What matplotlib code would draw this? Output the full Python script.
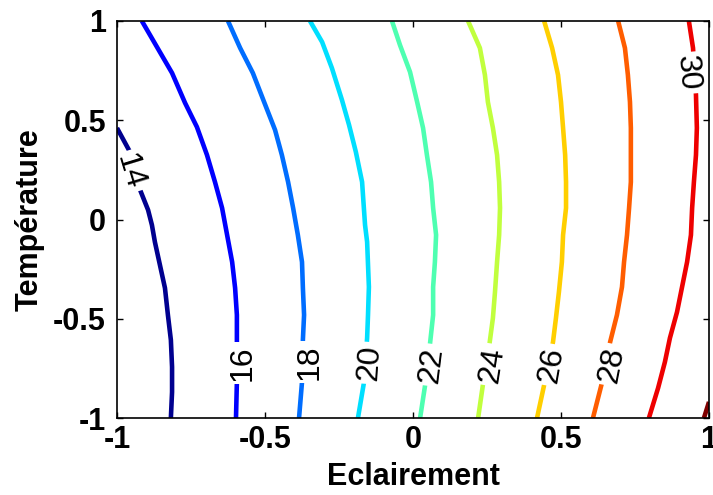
import matplotlib
matplotlib.use("Agg")
import matplotlib.pyplot as plt
from matplotlib.colors import Normalize, LinearSegmentedColormap

plt.rcParams['font.family'] = ['Liberation Sans', 'DejaVu Sans']
plt.rcParams['axes.unicode_minus'] = False

# CONTOUR LEVELS AND LINES (data units)
levels = [14, 16, 18, 20, 22, 24, 26, 28, 30, 32]

x14 = [-1.0, -0.956, -0.922, -0.895, -0.882, -0.872, -0.855, -0.838, -0.828, -0.818, -0.814, -0.814, -0.818]
y14 = [0.461, 0.340, 0.149, 0.048, -0.028, -0.113, -0.229, -0.345, -0.481, -0.607, -0.743, -0.869, -1.0]

x16 = [-0.916, -0.865, -0.814, -0.770, -0.730, -0.696, -0.669, -0.645, -0.628, -0.611, -0.601, -0.595, -0.595, -0.595, -0.598]
y16 = [1.0, 0.869, 0.738, 0.587, 0.466, 0.325, 0.189, 0.058, -0.078, -0.214, -0.345, -0.481, -0.617, -0.819, -1.0]

x18 = [-0.625, -0.584, -0.541, -0.503, -0.466, -0.443, -0.422, -0.405, -0.389, -0.375, -0.372, -0.368, -0.372, -0.375, -0.385]
y18 = [1.0, 0.864, 0.738, 0.592, 0.451, 0.325, 0.189, 0.058, -0.078, -0.214, -0.345, -0.481, -0.607, -0.819, -1.0]

x20 = [-0.348, -0.307, -0.274, -0.240, -0.216, -0.193, -0.172, -0.166, -0.162, -0.155, -0.149, -0.152, -0.155, -0.166, -0.186]
y20 = [1.0, 0.894, 0.763, 0.602, 0.476, 0.340, 0.189, 0.058, -0.028, -0.113, -0.340, -0.481, -0.597, -0.824, -1.0]

x22 = [-0.071, -0.044, -0.010, 0.014, 0.034, 0.047, 0.061, 0.068, 0.078, 0.074, 0.068, 0.068, 0.057, 0.041, 0.024]
y22 = [1.0, 0.879, 0.743, 0.592, 0.461, 0.325, 0.189, 0.058, -0.078, -0.214, -0.340, -0.481, -0.632, -0.834, -1.0]

x24 = [0.186, 0.226, 0.243, 0.253, 0.270, 0.284, 0.291, 0.294, 0.291, 0.284, 0.277, 0.270, 0.257, 0.236, 0.220]
y24 = [1.0, 0.864, 0.728, 0.592, 0.461, 0.325, 0.189, 0.058, -0.078, -0.214, -0.365, -0.496, -0.642, -0.834, -1.0]

x26 = [0.443, 0.470, 0.490, 0.500, 0.507, 0.514, 0.517, 0.517, 0.507, 0.503, 0.493, 0.483, 0.473, 0.443, 0.419]
y26 = [1.0, 0.864, 0.728, 0.592, 0.461, 0.325, 0.189, 0.058, -0.078, -0.214, -0.365, -0.496, -0.617, -0.834, -1.0]

x28 = [0.693, 0.716, 0.726, 0.733, 0.736, 0.736, 0.736, 0.730, 0.723, 0.713, 0.706, 0.689, 0.666, 0.639, 0.608]
y28 = [1.0, 0.864, 0.728, 0.592, 0.461, 0.325, 0.189, 0.058, -0.078, -0.214, -0.340, -0.481, -0.617, -0.819, -1.0]

x30 = [0.932, 0.946, 0.956, 0.959, 0.956, 0.949, 0.943, 0.939, 0.926, 0.909, 0.892, 0.868, 0.851, 0.828, 0.797]
y30 = [1.0, 0.864, 0.627, 0.461, 0.325, 0.189, 0.058, -0.078, -0.214, -0.340, -0.466, -0.597, -0.718, -0.849, -1.0]

x32 = [0.983, 1.0]
y32 = [-1.0, -0.919]

lines_x = [x14, x16, x18, x20, x22, x24, x26, x28, x30, x32]
lines_y = [y14, y16, y18, y20, y22, y24, y26, y28, y30, y32]

# inline labels: level, position, angle
label_levels = [14, 16, 18, 20, 22, 24, 26, 28, 30]
label_x = [-0.957, -0.576, -0.350, -0.147, 0.062, 0.268, 0.468, 0.672, 0.928]
label_y = [0.240, -0.723, -0.718, -0.723, -0.733, -0.733, -0.733, -0.733, 0.738]
label_rot = [-73, 90, 90, 86, 83, 81, 80, 79, -85]

ticks = [-1, -0.5, 0, 0.5, 1]
tick_labels = ['-1', '-0.5', '0', '0.5', '1']

# FIGURE
fig = plt.figure(figsize=(7.13, 4.95), dpi=100)
fig.patch.set_facecolor('w')
ax = fig.add_axes([117 / 713, 1 - 418 / 495, 592 / 713, 397 / 495])

# MATLAB style jet colormap
cmap = LinearSegmentedColormap.from_list('matlab_jet', [
    (0.0, (0, 0, 0.5625)),
    (7 / 63, (0, 0, 1)),
    (23 / 63, (0, 1, 1)),
    (39 / 63, (1, 1, 0)),
    (55 / 63, (1, 0, 0)),
    (1.0, (0.5, 0, 0)),
])
norm = Normalize(vmin=min(levels), vmax=max(levels))

for lev, xs, ys in zip(levels, lines_x, lines_y):
    ax.plot(xs, ys, color=cmap(norm(lev)), linewidth=3.3,
            solid_capstyle='butt', zorder=2)

for lev, lx, ly, rot in zip(label_levels, label_x, label_y, label_rot):
    ax.text(lx, ly, str(lev), fontsize=23, color='black',
            rotation=rot, rotation_mode='anchor',
            ha='center', va='center', zorder=2.2,
            bbox=dict(boxstyle='square,pad=0.1', fc='white', ec='none'))

# AXES
ax.set_xlim(-1, 1)
ax.set_ylim(-1, 1)
ax.set_xticks(ticks)
ax.set_xticklabels(tick_labels, fontsize=22, fontweight='bold')
ax.set_yticks(ticks)
ax.set_yticklabels(tick_labels, fontsize=22, fontweight='bold')
ax.tick_params(direction='in', length=4, width=1, top=True, right=True)
ax.tick_params(axis='x', pad=5)
ax.tick_params(axis='y', pad=8)
for s in ax.spines.values():
    s.set_linewidth(1.2)
    s.set_zorder(3)

ax.set_xlabel('Eclairement', fontsize=22, fontweight='bold', labelpad=5)
ax.set_ylabel('Température', fontsize=22, fontweight='bold', labelpad=6)

plt.savefig('out.png', dpi=100)
